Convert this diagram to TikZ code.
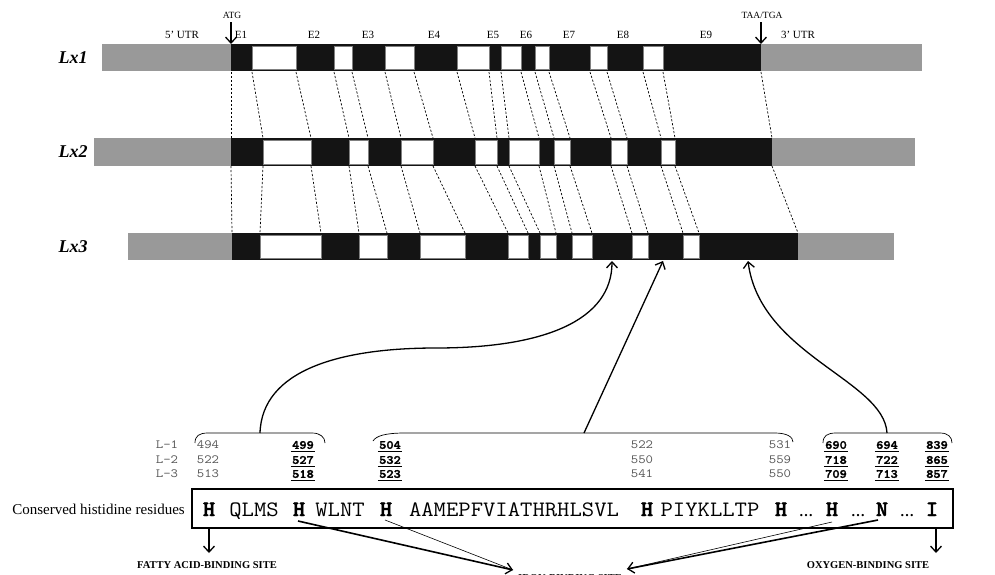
\documentclass[tikz,border=0pt]{standalone}
\usepackage{fontspec}
\setmainfont{Liberation Serif}
\newfontfamily\lmbold[FakeBold=2]{lmmonolt10-bold.otf}
\usetikzlibrary{arrows.meta}
\definecolor{barGray}{HTML}{999999}
\definecolor{barBlack}{HTML}{141414}
\definecolor{numGray}{HTML}{555555}
\newcommand\unum[3]{%
  \node[unumst] (#1) at (#2) {#3};
  \draw[line width=1.5pt] ([xshift=-1pt,yshift=-2.2pt]#1.south west) -- ([xshift=1pt,yshift=-2.2pt]#1.south east);}
\begin{document}
\begin{tikzpicture}[x=1pt,y=-1pt,
  wbox/.style={fill=white,draw=gray,line width=0.5pt},
  dline/.style={dash pattern=on 2.2pt off 1.8pt,line width=0.7pt},
  toplbl/.style={font=\fontsize{11}{11}\selectfont,inner sep=0pt},
  smlbl/.style={font=\fontsize{9.5}{10}\selectfont,inner sep=0pt},
  rowlbl/.style={font=\fontsize{18}{18}\selectfont\bfseries\itshape,inner sep=0pt},
  num/.style={font=\fontsize{12.5}{13}\ttfamily,text=numGray,inner sep=0pt,xscale=1.15},
  unumst/.style={font=\fontsize{12.5}{13}\lmbold,text=black,inner sep=0pt,xscale=1.1},
  seq/.style={font=\fontsize{22}{22}\ttfamily,inner sep=0pt,anchor=base,xscale=1.09},
  seqb/.style={font=\fontsize{22}{22}\lmbold,inner sep=0pt,anchor=base,xscale=1.05},
  dots/.style={font=\fontsize{14}{14}\selectfont\bfseries,inner sep=0pt,anchor=base},
  site/.style={font=\fontsize{10.5}{10.5}\selectfont\bfseries,inner sep=0pt},
  arr/.style={-{Straight Barb[length=6pt,width=11pt,line width=1.3pt]},line width=1.3pt},
  brace/.style={line width=0.7pt}]
\useasboundingbox (0,0) rectangle (995,575);

% ---------- Lx1 ----------
\fill[barGray] (102,44) rectangle (231,71);
\fill[barBlack] (231,44) rectangle (761,71);
\fill[barGray] (761,44) rectangle (922,71);
\foreach \a/\b in {252/296,334/352,385/414,457/489,501/521,535/549,590/607,643/663}
  \draw[wbox] (\a,46.5) rectangle (\b,69);
% ---------- Lx2 ----------
\fill[barGray] (94,138) rectangle (231,166);
\fill[barBlack] (231,138) rectangle (772,166);
\fill[barGray] (772,138) rectangle (915,166);
\foreach \a/\b in {263/311,349/368,401/433,475/497,509/539,554/570,611/627,661/675}
  \draw[wbox] (\a,140.5) rectangle (\b,164);
% ---------- Lx3 ----------
\fill[barGray] (128,233) rectangle (232,260);
\fill[barBlack] (232,233) rectangle (798,260);
\fill[barGray] (798,233) rectangle (894,260);
\foreach \a/\b in {260/321,359/387,420/465,508/528,540/556,572/592,632/648,683/699}
  \draw[wbox] (\a,235.5) rectangle (\b,258);

% ---------- dashed correspondences ----------
\foreach \a/\b/\c in {231/231/232,252/263/260,296/311/321,334/349/359,352/368/387,385/401/420,
  414/433/465,457/475/508,489/497/528,501/509/540,521/539/556,535/554/572,549/570/592,
  590/611/632,607/627/648,643/661/683,663/675/699,761/772/798}{
  \draw[dline] (\a,72) -- (\b,138);
  \draw[dline] (\b,166) -- (\c,233);
}

% ---------- row labels ----------
\node[rowlbl] (lx1) at (73,58) {Lx1};
\node[rowlbl] (lx2) at (73,152) {Lx2};
\node[rowlbl] (lx3) at (73,247) {Lx3};

% ---------- top labels ----------
\node[smlbl] (atg) at (232,15) {ATG};
\node[smlbl] (taa) at (762,15) {TAA/TGA};
\coordinate (atgtip) at (231,44);
\coordinate (taatip) at (761,44);
\draw[arr,line width=1.1pt] (atg.south) ++(-1,4) coordinate (atgs) (atgs) -- (atgtip);
\draw[arr,line width=1.1pt] (taa.south) ++(-1,4) coordinate (taas) (taas) -- (taatip);
\node[toplbl] (u5) at (182,35) {5’ UTR};
\node[toplbl] (e1) at (241,35) {E1};
\node[toplbl] (e2) at (314,35) {E2};
\node[toplbl] (e3) at (368,35) {E3};
\node[toplbl] (e4) at (434,35) {E4};
\node[toplbl] (e5) at (493,35) {E5};
\node[toplbl] (e6) at (526,35) {E6};
\node[toplbl] (e7) at (569,35) {E7};
\node[toplbl] (e8) at (623,35) {E8};
\node[toplbl] (e9) at (706,35) {E9};
\node[toplbl] (u3) at (798,35) {3’ UTR};

% ---------- braces ----------
\draw[brace] (195,443) .. controls (195,436) and (199,433) .. (208,433) -- (312,433)
  .. controls (320,433) and (325,437) .. (325,443);
\draw[brace] (373,441) .. controls (376,436) and (385,433) .. (405,433) -- (775,433)
  .. controls (787,433) and (793,437) .. (793,442);
\draw[brace] (823,443) .. controls (823,436) and (827,433) .. (836,433) -- (940,433)
  .. controls (948,433) and (952,437) .. (952,443);
\coordinate (b1) at (260,433);
\coordinate (b2) at (584,433);
\coordinate (b3) at (887,433);
\coordinate (t1) at (612,261);
\coordinate (t2) at (663,261);
\coordinate (t3) at (748,261);
\draw[arr] (b1) .. controls (262,370) and (340,348) .. (436,348)
  .. controls (545,348) and (612,320) .. (t1);
\draw[arr] (b2) -- (t2);
\draw[arr] (b3) .. controls (884,380) and (760,355) .. (t3);

% ---------- numbers ----------
\node[num] (l1) at (167,445) {L-1};
\node[num] (l2) at (167,460) {L-2};
\node[num] (l3) at (167,474) {L-3};
\node[num] (n494) at (208,445) {494};
\node[num] (n522a) at (208,460) {522};
\node[num] (n513) at (208,474) {513};
\unum{n499}{303,445}{499}
\unum{n527}{303,460}{527}
\unum{n518}{303,474}{518}
\unum{n504}{390,445}{504}
\unum{n532}{390,460}{532}
\unum{n523}{390,474}{523}
\node[num] (n522) at (642,445) {522};
\node[num] (n550) at (642,460) {550};
\node[num] (n541) at (642,474) {541};
\node[num] (n531) at (780,445) {531};
\node[num] (n559) at (780,460) {559};
\node[num] (n550b) at (780,474) {550};
\unum{n690}{836,445}{690}
\unum{n718}{836,460}{718}
\unum{n709}{836,474}{709}
\unum{n694}{887,445}{694}
\unum{n722}{887,460}{722}
\unum{n713}{887,474}{713}
\unum{n839}{937,445}{839}
\unum{n865}{937,460}{865}
\unum{n857}{937,474}{857}

% ---------- sequence box ----------
\node[font=\fontsize{15}{15}\selectfont,anchor=east,inner sep=0pt] (chr) at (185,509) {Conserved histidine residues};
\draw[line width=1.4pt] (192,489) rectangle (953,528);
\def\bl{516}
\node[seqb] (h1) at (209,\bl) {H};
\node[seq] (s1) at (254,\bl) {QLMS};
\node[seqb] (h2) at (299,\bl) {H};
\node[seq] (s2) at (340,\bl) {WLNT};
\node[seqb] (h3) at (386,\bl) {H};
\node[seq] (s3) at (514,\bl) {AAMEPFVIATHRHLSVL};
\node[seqb] (h4) at (647,\bl) {H};
\node[seq] (s4) at (710,\bl) {PIYKLLTP};
\node[seqb] (h5) at (781,\bl) {H};
\node[dots] (d1) at (806,\bl) {…};
\node[seqb] (h6) at (832,\bl) {H};
\node[dots] (d2) at (858,\bl) {…};
\node[seqb] (nn) at (882,\bl) {N};
\node[dots] (d3) at (907,\bl) {…};
\node[seqb] (ii) at (932,\bl) {I};

% ---------- site labels and arrows ----------
\node[site] (fatty) at (207,565) {FATTY ACID-BINDING SITE};
\node[site] (iron) at (570,578) {IRON-BINDING SITE};
\node[site] (oxy) at (868,565) {OXYGEN-BINDING SITE};
\coordinate (fa0) at (209,529);
\coordinate (fa1) at (209,553);
\coordinate (ox0) at (936,529);
\coordinate (ox1) at (936,553);
\draw[arr,line width=1.1pt] (fa0) -- (fa1);
\draw[arr,line width=1.1pt] (ox0) -- (ox1);
\coordinate (irL) at (513,570);
\coordinate (irR) at (627,569);
\coordinate (h2b) at (298,521);
\coordinate (h3b) at (385,520);
\coordinate (h6b) at (832,522);
\coordinate (nnb) at (878,520);
\draw[line width=0.6pt] (h3b) -- (irL);
\draw[arr,line width=1.6pt] (h2b) -- (irL);
\draw[line width=0.6pt] (h6b) -- (irR);
\draw[arr,line width=1.6pt] (nnb) -- (irR);
\end{tikzpicture}
\end{document}
